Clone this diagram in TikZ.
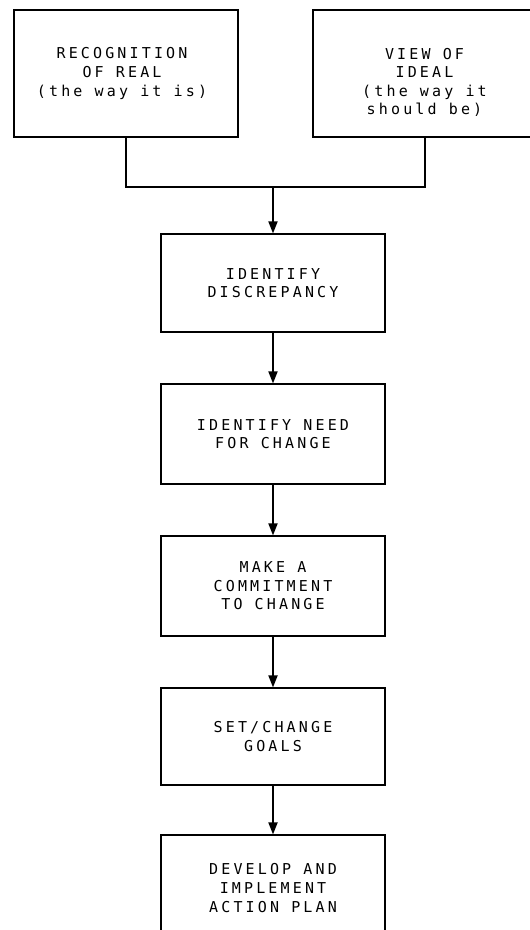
\documentclass[tikz,border=0pt]{standalone}
\usepackage{fontspec}
\newfontfamily\plotfont[LetterSpace=21]{DejaVu Sans Mono}
\usetikzlibrary{arrows.meta}
\begin{document}
\begin{tikzpicture}[x=1pt,y=-1pt,
  box/.style={draw, line width=1.1pt, minimum width=224pt, inner sep=0pt, align=center,
    font=\plotfont\fontsize{15}{18.6}\selectfont},
  txt/.style={inner sep=0pt, align=center, font=\plotfont\fontsize{15}{18.6}\selectfont},
  link/.style={line width=1.1pt},
  arrow/.style={line width=1.8pt, -{Triangle[length=12pt,width=9pt]}}]
\useasboundingbox (0,0) rectangle (530,930);
% top boxes
\node[box, minimum height=127pt] (real) at (126,73.5) {};
\node[txt] (realtext) at (122,73.5) {RECOGNITION\\OF REAL\\(the way it is)};
\node[box, minimum height=127pt] (ideal) at (425,73.5) {};
\node[txt] (idealtext) at (424.5,82.5) {VIEW OF\\IDEAL\\(the way it\\should be)};
% column
\node[box, minimum height=98pt] (disc) at (273,283) {IDENTIFY\\DISCREPANCY};
\node[box, minimum height=100pt] (need) at (273,434) {IDENTIFY NEED\\FOR CHANGE};
\node[box, minimum height=100pt] (commit) at (273,586) {MAKE A\\COMMITMENT\\TO CHANGE};
\node[box, minimum height=97pt] (goals) at (273,736.5) {SET/CHANGE\\GOALS};
\node[box, minimum height=106pt] (plan) at (273,888) {DEVELOP AND\\IMPLEMENT\\ACTION PLAN};
% connectors
\coordinate (join) at (273,187);
\draw[link] (real.south) |- (join) -| (ideal.south);
\draw[arrow] (join) -- (disc.north);
\draw[arrow] (disc.south) -- (need.north);
\draw[arrow] (need.south) -- (commit.north);
\draw[arrow] (commit.south) -- (goals.north);
\draw[arrow] (goals.south) -- (plan.north);
\end{tikzpicture}
\end{document}
